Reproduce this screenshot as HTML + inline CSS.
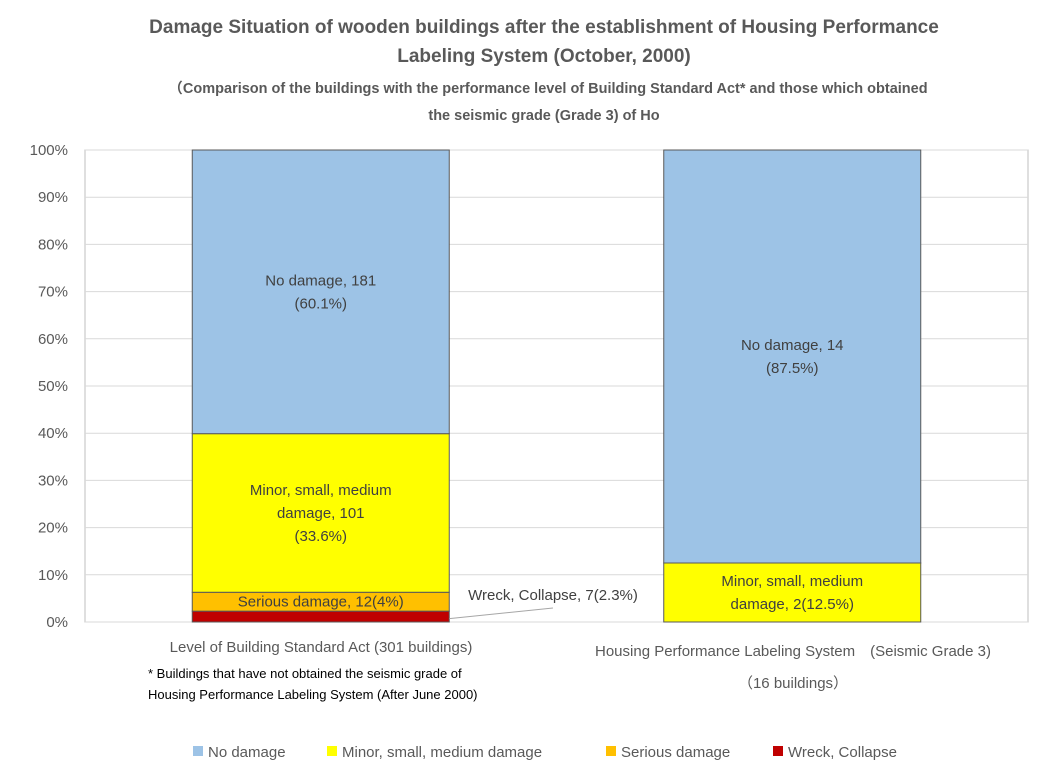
<!DOCTYPE html>
<html><head><meta charset="utf-8">
<style>
body{margin:0;background:#fff;}
svg{display:block;font-family:"Liberation Sans","Noto Sans CJK JP",sans-serif;}
</style></head>
<body>
<svg id="chart" width="1043" height="770" viewBox="0 0 1043 770">
<rect x="0" y="0" width="1043" height="770" fill="#fff"/>
<g fill="#595959" font-weight="bold" text-anchor="middle">
<text x="544" y="33" font-size="19">Damage Situation of wooden buildings after the establishment of Housing Performance</text>
<text x="544" y="62" font-size="19">Labeling System (October, 2000)</text>
<text x="548" y="93" font-size="14.5">（Comparison of the buildings with the performance level of Building Standard Act* and those which obtained</text>
<text x="544" y="120" font-size="14.5">the seismic grade (Grade 3) of Ho</text>
</g>
<rect x="85" y="150" width="943" height="472" fill="none" stroke="#bfbfbf"/>
<g id="grid"></g><g id="yticks"></g><g id="bars"></g><g id="labels"></g>
<g fill="#595959" font-size="15" text-anchor="middle">
<text x="321" y="652">Level of Building Standard Act (301 buildings)</text>
<text x="793" y="656">Housing Performance Labeling System　(Seismic Grade 3)</text>
<text x="793" y="688">（16 buildings）</text>
</g>
<g fill="#000" font-size="13">
<text x="148" y="678">* Buildings that have not obtained the seismic grade of</text>
<text x="148" y="699">Housing Performance Labeling System (After June 2000)</text>
</g>
<g id="legend" font-size="15" fill="#595959"></g>
</svg>
<script>
const categories=["Level of Building Standard Act","Housing Performance Labeling System"];
const seriesNames=["Wreck, Collapse","Serious damage","Minor, small, medium damage","No damage"];
const wreck=[2.3,0];
const serious=[4.0,0];
const minor=[33.6,12.5];
const noDamage=[60.1,87.5];
const yTicks=[0,10,20,30,40,50,60,70,80,90,100];
const colors=["#c00000","#ffc000","#ffff00","#9dc3e6"];
const segLabels=[
 [["Wreck, Collapse, 7(2.3%)"],["Serious damage, 12(4%)"],["Minor, small, medium","damage, 101","(33.6%)"],["No damage, 181","(60.1%)"]],
 [[],[],["Minor, small, medium","damage, 2(12.5%)"],["No damage, 14","(87.5%)"]]
];
const NS="http://www.w3.org/2000/svg";
const X0=85,X1=1028,Y0=622,Y1=150;
const y=v=>Y0-(v/100)*(Y0-Y1);
const band=(X1-X0)/categories.length;
const xc=i=>X0+band*(i+0.5);
const bw=257;
function mk(t,a,p){const e=document.createElementNS(NS,t);for(const k in a)e.setAttribute(k,a[k]);p.appendChild(e);return e;}
const grid=document.getElementById('grid'),yt=document.getElementById('yticks');
yTicks.forEach(t=>{
 const l=mk('line',{x1:X0,x2:X1,y1:y(t),y2:y(t),stroke:'#d9d9d9'},grid);
 
 
 const tx=mk('text',{x:68,y:y(t)+5,'text-anchor':'end','font-size':15,fill:'#595959'},yt);
 tx.textContent=t+'%';
 
 
});
const series=[wreck,serious,minor,noDamage];
const bars=document.getElementById('bars'),labs=document.getElementById('labels');
categories.forEach((c,i)=>{
 let cum=0;
 series.forEach((s,k)=>{
  const v=s[i];const b=cum;cum+=v;
  if(v<=0)return;
  const r=mk('rect',{x:xc(i)-bw/2,y:y(cum),width:bw,height:y(b)-y(cum),fill:colors[k],stroke:'#595959','stroke-width':1},bars);
  
  
  const lines=segLabels[i][k];
  if(!lines.length)return;
  if(k===0){
   mk('line',{x1:xc(i)+bw/2,y1:y(b+v/2)+2,x2:553,y2:608,stroke:'#a6a6a6'},labs);
   const t=mk('text',{x:553,y:600,'text-anchor':'middle','font-size':15,fill:'#404040'},labs);
   t.textContent=lines[0];
   
   
   return;
  }
  const mid=(y(b)+y(cum))/2;const lh=23;
  lines.forEach((ln,j)=>{
   const t=mk('text',{x:xc(i),y:mid+5+(j-(lines.length-1)/2)*lh,'text-anchor':'middle','font-size':15,fill:'#404040'},labs);
   t.textContent=ln;
   
   
  });
 });
});
const leg=document.getElementById('legend');
const legOrder=[3,2,1,0];const legX=[193,327,606,773];
legOrder.forEach((k,j)=>{
 const r=mk('rect',{x:legX[j],y:746,width:10,height:10,fill:colors[k]},leg);
 
 
 const t=mk('text',{x:legX[j]+15,y:757},leg);
 t.textContent=k===3?"No damage":seriesNames[k];
 
 
});
</script>
</body></html>
